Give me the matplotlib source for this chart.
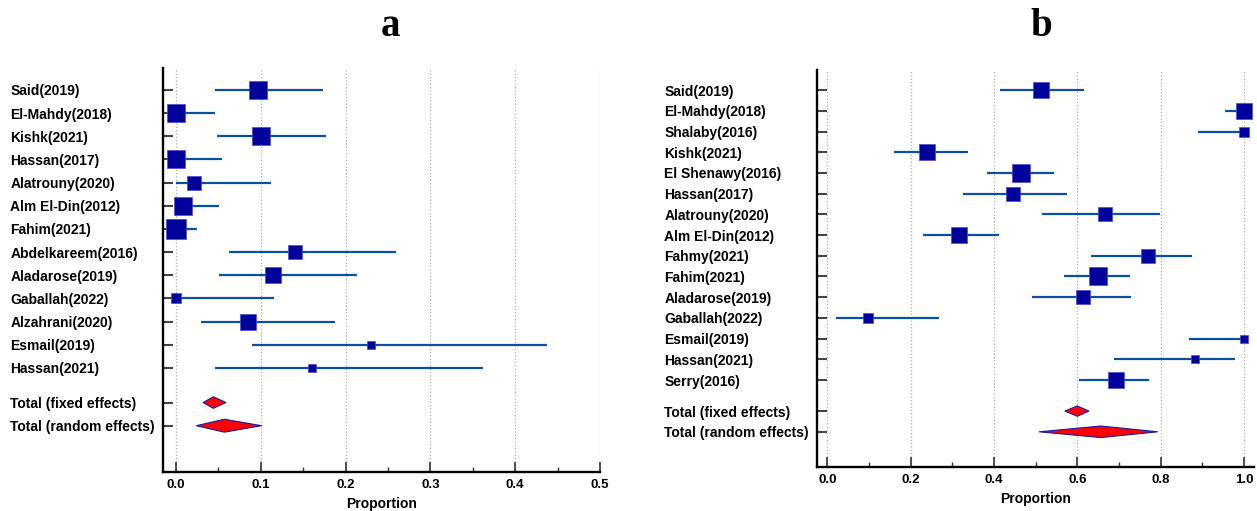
import matplotlib
matplotlib.use("Agg")
import matplotlib.pyplot as plt
from matplotlib.ticker import MultipleLocator

# panel a: studies, proportion, 95% CI and relative weight (%)
studies_a = ["Said(2019)", "El-Mahdy(2018)", "Kishk(2021)", "Hassan(2017)",
             "Alatrouny(2020)", "Alm El-Din(2012)", "Fahim(2021)",
             "Abdelkareem(2016)", "Aladarose(2019)", "Gaballah(2022)",
             "Alzahrani(2020)", "Esmail(2019)", "Hassan(2021)"]
prop_a = [0.097, 0.0, 0.100, 0.0, 0.021, 0.008, 0.0, 0.140, 0.114, 0.0, 0.085, 0.230, 0.160]
lo_a = [0.046, 0.0, 0.048, 0.0, 0.0, 0.001, 0.0, 0.062, 0.051, 0.0, 0.029, 0.090, 0.046]
hi_a = [0.173, 0.046, 0.177, 0.054, 0.112, 0.051, 0.025, 0.259, 0.214, 0.116, 0.188, 0.438, 0.362]
weight_a = [10.8, 9.2, 10.8, 9.2, 6.3, 11.1, 13.2, 6.3, 7.9, 3.1, 8.6, 1.7, 2.0]
fixed_a = (0.044, 0.032, 0.059)
random_a = (0.057, 0.024, 0.101)

# panel b
studies_b = ["Said(2019)", "El-Mahdy(2018)", "Shalaby(2016)", "Kishk(2021)",
             "El Shenawy(2016)", "Hassan(2017)", "Alatrouny(2020)",
             "Alm El-Din(2012)", "Fahmy(2021)", "Fahim(2021)", "Aladarose(2019)",
             "Gaballah(2022)", "Esmail(2019)", "Hassan(2021)", "Serry(2016)"]
prop_b = [0.514, 1.0, 1.0, 0.240, 0.464, 0.446, 0.667, 0.315, 0.769, 0.649, 0.614, 0.098, 1.0, 0.882, 0.692]
lo_b = [0.414, 0.954, 0.890, 0.160, 0.384, 0.325, 0.515, 0.230, 0.632, 0.569, 0.491, 0.021, 0.869, 0.687, 0.605]
hi_b = [0.616, 1.0, 1.0, 0.337, 0.545, 0.575, 0.798, 0.411, 0.875, 0.726, 0.730, 0.267, 1.0, 0.979, 0.773]
weight_b = [8.3, 8.6, 3.1, 8.6, 10.9, 6.6, 6.4, 8.6, 6.4, 10.5, 6.6, 3.1, 1.6, 2.1, 8.6]
fixed_b = (0.600, 0.570, 0.628)
random_b = (0.657, 0.508, 0.793)

plt.rcParams['font.family'] = ['Liberation Sans', 'DejaVu Sans']
plt.rcParams['font.weight'] = 'bold'

BOX = "#00009a"
LINE = "#0a50a0"


def forest(ax, studies, prop, lo, hi, weight, fixed, rand, step, major, minor, xlim, ylim, boxscale):
    n = len(studies)
    rows = list(range(n))
    ax.set_axisbelow(True)
    ax.grid(axis='x', linestyle=':', color='#aaaaaa', linewidth=0.9)
    for i in rows:
        ax.plot([lo[i], hi[i]], [i, i], color=LINE, lw=1.6, solid_capstyle='butt', zorder=3)
        side = boxscale * weight[i] ** 0.5  # box side in pixels
        ax.plot(prop[i], i, marker='s', ms=side * 0.72, color=BOX,
                mec='#4a4ad0', mew=0.5, zorder=4, clip_on=False)
    # pooled estimates as diamonds
    for (est, l, h), y, hh in [(fixed, n + 0.5, 0.25), (rand, n + 1.5, 0.28)]:
        ax.fill([l, est, h, est], [y, y - hh, y, y + hh], facecolor='red',
                edgecolor='#1a1aa0', lw=0.8, zorder=4)

    ax.set_xlim(*xlim)
    ax.set_ylim(*ylim)
    ax.xaxis.set_major_locator(MultipleLocator(major))
    ax.xaxis.set_minor_locator(MultipleLocator(minor))
    ax.xaxis.set_major_formatter(plt.FormatStrFormatter('%.1f'))
    ax.tick_params(axis='x', which='major', direction='in', length=7, width=1.2,
                   color='#333333', labelsize=9.5, pad=5)
    ax.tick_params(axis='x', which='minor', direction='in', length=3.5, width=1.0, color='#333333')

    ax.set_yticks(rows + [n + 0.5, n + 1.5])
    ax.set_yticklabels(studies + ["Total (fixed effects)", "Total (random effects)"],
                       ha='left', fontsize=10, fontweight='bold')
    ax.tick_params(axis='y', direction='in', length=7, width=1.5, color='#444444', pad=110)

    for s in ['top', 'right']:
        ax.spines[s].set_visible(False)
    for s in ['left', 'bottom']:
        ax.spines[s].set_linewidth(1.7)
        ax.spines[s].set_color('black')
    ax.set_xlabel("Proportion", fontsize=10, fontweight='bold', labelpad=4)


fig = plt.figure(figsize=(12.57, 5.11), dpi=100)
ax_a = fig.add_axes([163 / 1257, 39 / 511, 437 / 1257, 404 / 511])
ax_b = fig.add_axes([817 / 1257, 44 / 511, 437 / 1257, 397 / 511])

forest(ax_a, studies_a, prop_a, lo_a, hi_a, weight_a, fixed_a, random_a,
       23.17, 0.1, 0.05, (-0.0153, 0.5), (16.5, -0.95), 5.7)
forest(ax_b, studies_b, prop_b, lo_b, hi_b, weight_b, fixed_b, random_b,
       20.7, 0.2, 0.1, (-0.0246, 1.024), (18.2, -0.97), 5.55)

fig.text(390 / 1257, 1 - 26 / 511, "a", ha='center', va='center',
         family='Liberation Serif', fontsize=28, fontweight='bold')
fig.text(1041 / 1257, 1 - 26 / 511, "b", ha='center', va='center',
         family='Liberation Serif', fontsize=28, fontweight='bold')

fig.savefig("out.png", dpi=100)
